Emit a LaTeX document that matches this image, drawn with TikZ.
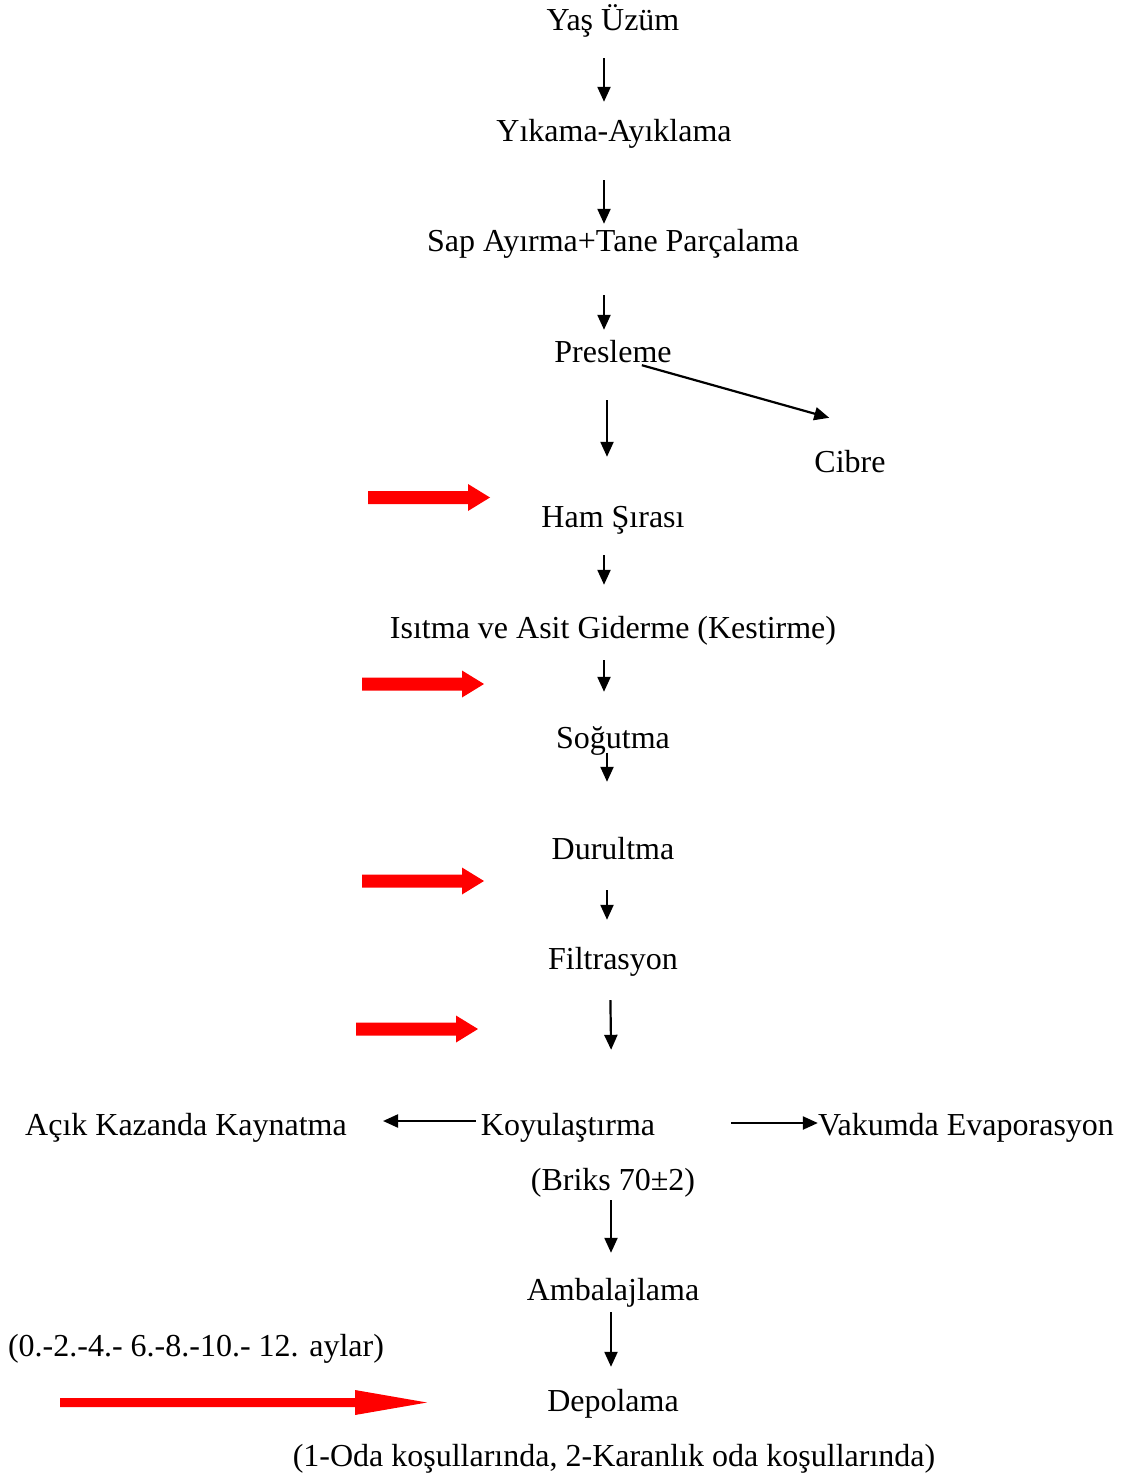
\documentclass[tikz,border=0pt]{standalone}
\usepackage{fontspec}
\setmainfont{Liberation Serif}
\usetikzlibrary{arrows.meta}
% thick red pointer: start x, axis y, head start x, tip x, shaft half-height, head half-height
\newcommand\bigredarrow[6]{%
  \fill[red] (#1,#2-#5) -- (#3,#2-#5) -- (#3,#2-#6) -- (#4,#2) -- (#3,#2+#6)
    -- (#3,#2+#5) -- (#1,#2+#5) -- cycle;}
\begin{document}
\begin{tikzpicture}[x=1pt,y=-1pt,
  lbl/.style={inner sep=0pt, text height=25pt, text depth=4pt,
    font=\fontsize{32}{38}\selectfont},
  flow/.style={line width=2.2pt, -{Triangle[length=15pt,width=13pt]}}]
\useasboundingbox (0,0) rectangle (1126,1479);

% process steps
\node[lbl] (yas)  at (613,20)   {Yaş Üzüm};
\node[lbl] (yik)  at (614,131)  {Yıkama-Ayıklama};
\node[lbl] (sap)  at (613,241)  {Sap Ayırma+Tane Parçalama};
\node[lbl] (pres) at (613,352)  {Presleme};
\node[lbl] (cib)  at (850,462)  {Cibre};
\node[lbl] (ham)  at (613,517)  {Ham Şırası};
\node[lbl] (isi)  at (613,628)  {Isıtma ve Asit Giderme (Kestirme)};
\node[lbl] (sog)  at (613,738)  {Soğutma};
\node[lbl] (dur)  at (613,849)  {Durultma};
\node[lbl] (fil)  at (613,959)  {Filtrasyon};
\node[lbl] (koy)  at (568,1125) {Koyulaştırma};
\node[lbl] (acik) at (186,1125) {Açık Kazanda Kaynatma};
\node[lbl] (vak)  at (966,1125) {Vakumda Evaporasyon};
\node[lbl] (brix) at (613,1180) {(Briks 70±2)};
\node[lbl] (amb)  at (613,1290) {Ambalajlama};
\node[lbl] (ay)   at (196,1346) {(0.-2.-4.- 6.-8.-10.- 12. aylar)};
\node[lbl] (dep)  at (613,1401) {Depolama};
\node[lbl] (kos)  at (614,1456) {(1-Oda koşullarında, 2-Karanlık oda koşullarında)};

% vertical guide lines for the connectors
\coordinate (c604) at (604,0);
\coordinate (c607) at (607,0);
\coordinate (c610) at (610,0);
\coordinate (c612) at (612,0);
\coordinate (c611) at (611,0);

% main flow
\draw[flow, shorten <=23.5pt, shorten >=14.5pt] (yas.south -| c604) -- (yik.north -| c604);
\draw[flow, shorten <=34.5pt, shorten >=2.5pt]  (yik.south -| c604) -- (sap.north -| c604);
\draw[flow, shorten <=39.5pt, shorten >=7.5pt]  (sap.south -| c604) -- (pres.north -| c604);
\draw[flow, shorten <=33.5pt, shorten >=45.5pt] (pres.south -| c607) -- (ham.north -| c607);
\draw[flow] ([xshift=-30pt,yshift=1.5pt]pres.south east) -- ([xshift=15pt,yshift=29.5pt]cib.north west);
\draw[flow, shorten <=23.5pt, shorten >=28.5pt] (ham.south -| c604) -- (isi.north -| c604);
\draw[flow, shorten <=17.5pt, shorten >=31.5pt] (isi.south -| c604) -- (sog.north -| c604);
\draw[flow, shorten >=52.5pt] (sog.south -| c607) -- (dur.north -| c607);
\draw[flow, shorten <=26.5pt, shorten >=24.5pt] (dur.south -| c607) -- (fil.north -| c607);
\draw[flow, shorten <=26.5pt, shorten >=60.5pt] (fil.south -| c610) -- (koy.north -| c612);
\draw[flow, shorten <=5pt, shorten >=36pt] ([yshift=4pt]koy.west) -- ([yshift=4pt]acik.east);
\draw[flow, shorten <=76pt] ([yshift=2pt]koy.east) -- ([yshift=2pt]vak.west);
\draw[flow, shorten <=5.5pt, shorten >=22.5pt] (brix.south -| c611) -- (amb.north -| c611);
\draw[flow, shorten <=7.5pt, shorten >=19.5pt] (amb.south -| c611) -- (dep.north -| c611);

% red pointers on the left
\bigredarrow{368}{497.5}{468}{490}{6.5}{13.5}
\bigredarrow{362}{684}{462}{484}{6.5}{13.5}
\bigredarrow{362}{881}{462}{484}{6.5}{13.5}
\bigredarrow{356}{1029}{456}{478}{6.5}{13.5}
\bigredarrow{60}{1402.5}{355}{427}{4.5}{12.5}
\end{tikzpicture}
\end{document}
